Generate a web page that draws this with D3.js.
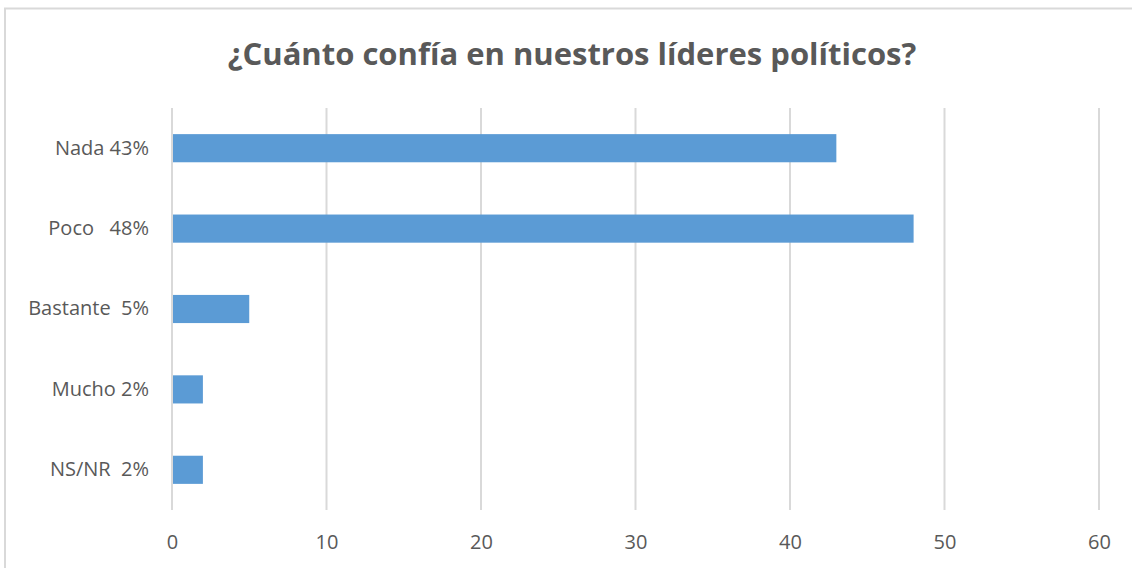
<!DOCTYPE html>
<html>
<head>
<meta charset="utf-8">
<script src="https://cdn.jsdelivr.net/npm/d3@7"></script>
<style>
  body { margin: 0; background: #fff; }
  text { font-family: "Open Sans", sans-serif; }
</style>
</head>
<body>
<svg id="chart"></svg>
<script>
var titleText = "¿Cuánto confía en nuestros líderes políticos?"
var categories = ["Nada 43%", "Poco   48%", "Bastante  5%", "Mucho 2%", "NS/NR  2%"]
var values = [43, 48, 5, 2, 2]
var xTicks = [0, 10, 20, 30, 40, 50, 60]

var screen = { width: 1132, height: 568 }

var svg = d3.select("#chart")
            .attr("width", screen.width)
            .attr("height", screen.height)

// chart frame (cut off at right and bottom like the picture)
svg.append("rect")
   .attr("x", 5)
   .attr("y", 8.5)
   .attr("width", 1140)
   .attr("height", 600)
   .attr("fill", "none")
   .attr("stroke", "#d9d9d9")
   .attr("stroke-width", 2)

var margins = { top: 108, bottom: 58, left: 172, right: 33 }
var width = screen.width - margins.left - margins.right
var height = screen.height - margins.top - margins.bottom

var xScale = d3.scaleLinear()
               .domain([0, 60])
               .range([0, width])
var yScale = d3.scaleBand()
               .domain(categories)
               .range([0, height])
               .paddingInner(0.65)
               .paddingOuter(0.325)

var plot = svg.append("g")
              .attr("transform", "translate(" + margins.left + "," + margins.top + ")")

// grid lines
plot.append("g")
    .selectAll("line")
    .data(xTicks)
    .enter()
    .append("line")
    .attr("x1", function(d) { return xScale(d) })
    .attr("x2", function(d) { return xScale(d) })
    .attr("y1", 0)
    .attr("y2", height)
    .attr("stroke", "#d9d9d9")
    .attr("stroke-width", 2)

// bars
plot.append("g")
    .selectAll("rect")
    .data(values)
    .enter()
    .append("rect")
    .attr("x", xScale(0) + 1)
    .attr("y", function(d, i) { return yScale(categories[i]) })
    .attr("width", function(d) { return xScale(d) - xScale(0) - 1 })
    .attr("height", yScale.bandwidth())
    .attr("fill", "#5b9bd5")

// x axis labels
var xAxis = d3.axisBottom(xScale)
              .tickValues(xTicks)
              .tickSize(0)
              .tickPadding(25)
plot.append("g")
    .attr("transform", "translate(0," + height + ")")
    .call(xAxis)
    .call(function(g) { g.select(".domain").remove() })
    .selectAll("text")
    .attr("font-family", "'Open Sans', sans-serif")
    .attr("font-size", "20px")
    .attr("fill", "#595959")

// category labels
var yAxis = d3.axisLeft(yScale)
              .tickSize(0)
              .tickPadding(23)
plot.append("g")
    .call(yAxis)
    .call(function(g) { g.select(".domain").remove() })
    .selectAll("text")
    .attr("font-family", "'Open Sans', sans-serif")
    .attr("font-size", "20px")
    .attr("fill", "#595959")
    .style("white-space", "pre")

// title
svg.append("text")
   .attr("x", 572)
   .attr("y", 65)
   .attr("text-anchor", "middle")
   .attr("font-size", "31px")
   .attr("font-weight", "bold")
   .attr("fill", "#595959")
   .text(titleText)
</script>
</body>
</html>
